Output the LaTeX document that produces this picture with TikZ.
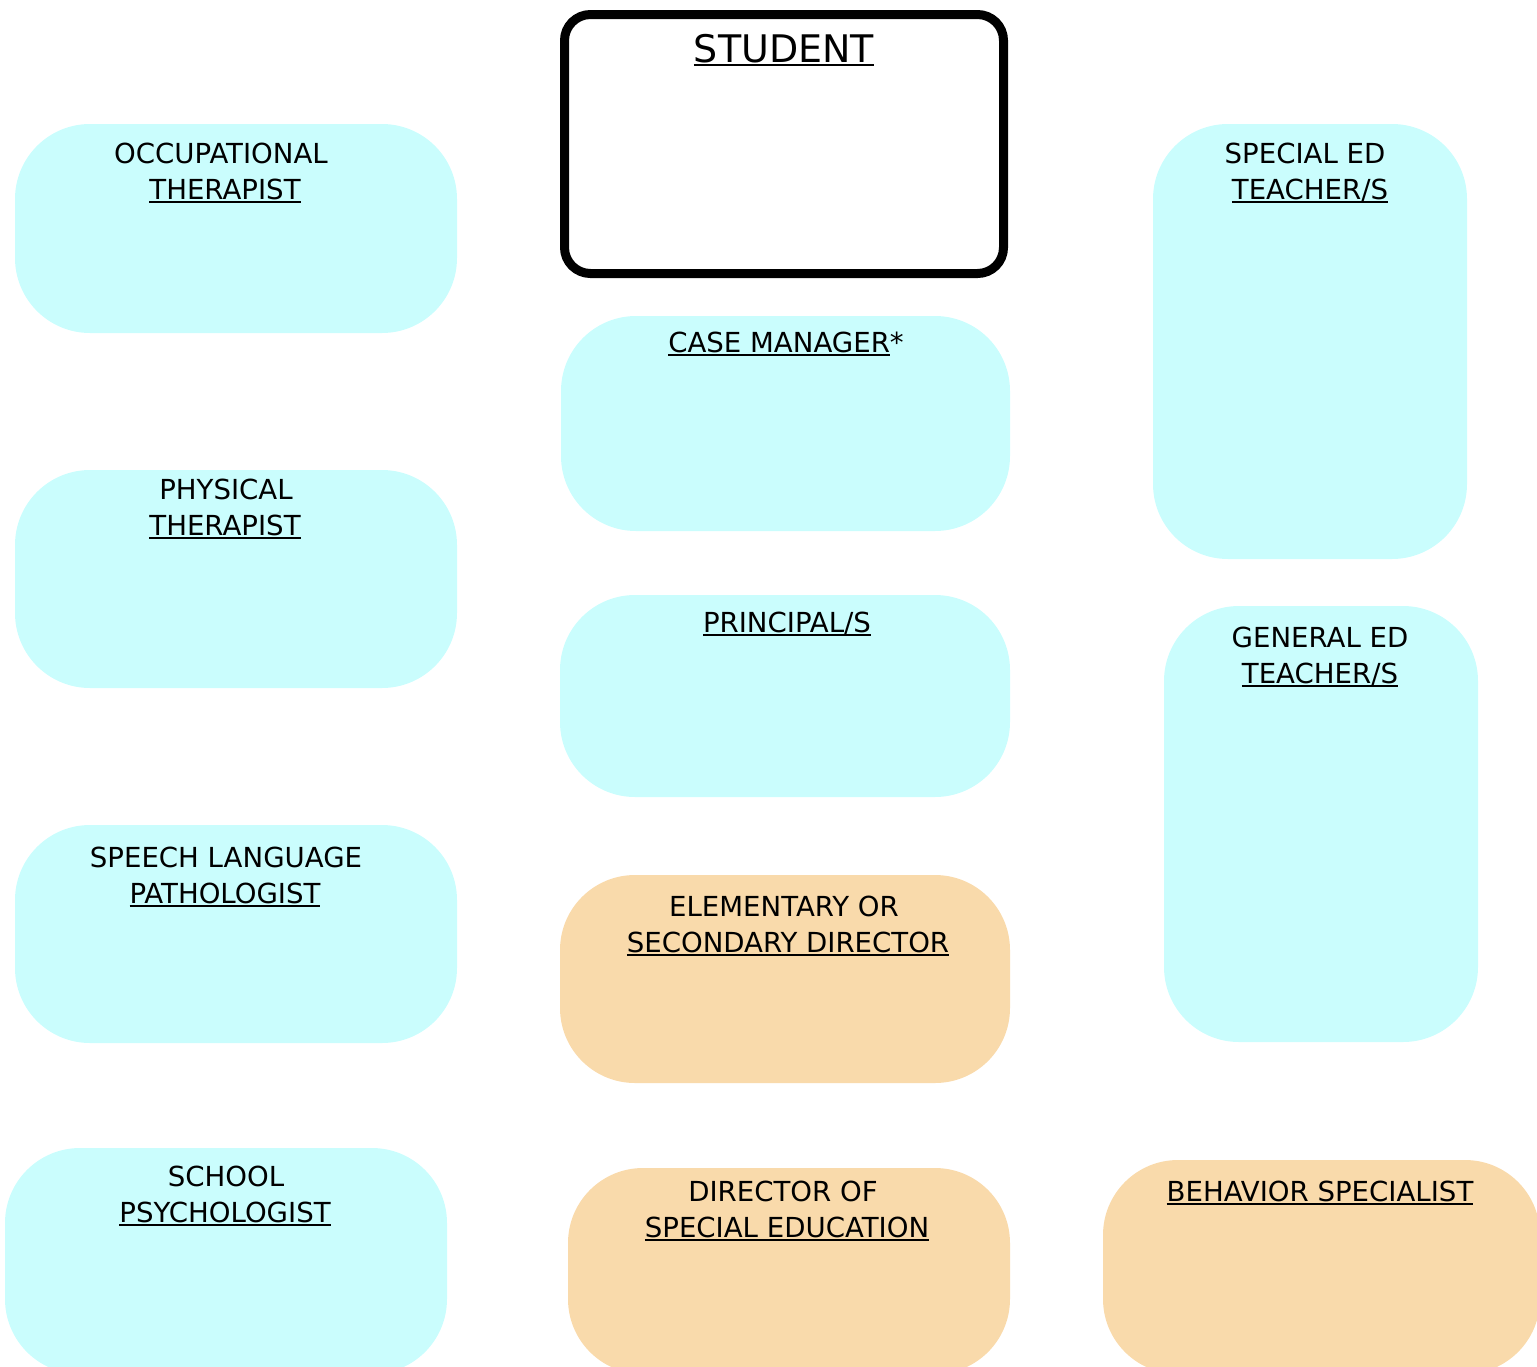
\documentclass[tikz,border=0pt]{standalone}
\usepackage{fontspec}
\setmainfont{DejaVu Sans}
\definecolor{cyanbox}{HTML}{CAFDFD}
\definecolor{orangebox}{HTML}{F9DAAB}
\newcommand\ulx[1]{\setbox0\hbox{#1}\rlap{\rule[-3.6pt]{\wd0}{1.9pt}}\box0}
\tikzset{
  cbox/.style={rectangle, rounded corners=75pt, fill=cyanbox, draw=none, anchor=north west, inner sep=0pt, outer sep=0pt},
  obox/.style={cbox, fill=orangebox},
  sbox/.style={rectangle, rounded corners=26pt, draw=black, line width=9pt, fill=white, anchor=north west, inner sep=0pt},
  lbl/.style={anchor=base, inner sep=0pt, font=\fontsize{27.6}{36}\selectfont},
  big/.style={anchor=base, inner sep=0pt, font=\fontsize{38}{44}\selectfont}
}
\begin{document}
\begin{tikzpicture}[x=1pt,y=-1pt]
\useasboundingbox (0,0) rectangle (1537,1366);
% boxes
\node[sbox, minimum width=439pt, minimum height=259pt] (student) at (560,10) {};
\node[cbox, minimum width=442pt, minimum height=209pt] (ot) at (15,124) {};
\node[cbox, minimum width=442pt, minimum height=218pt] (pt) at (15,470) {};
\node[cbox, minimum width=442pt, minimum height=218pt] (slp) at (15,825) {};
\node[cbox, minimum width=442pt, minimum height=226pt] (sp) at (5,1148) {};
\node[cbox, minimum width=449pt, minimum height=215pt] (cm) at (561,316) {};
\node[cbox, minimum width=450pt, minimum height=202pt] (pr) at (560,595) {};
\node[obox, minimum width=450pt, minimum height=208pt] (el) at (560,875) {};
\node[obox, minimum width=442pt, minimum height=206pt] (dir) at (568,1168) {};
\node[cbox, minimum width=314pt, minimum height=435pt] (se) at (1153,124) {};
\node[cbox, minimum width=314pt, minimum height=436pt] (ge) at (1164,606) {};
\node[obox, minimum width=437pt, minimum height=214pt] (bs) at (1103,1160) {};
% texts
\node[big] (tstudent) at (784,62) {\ulx{STUDENT}};
\node[lbl] (tot1) at (221,163) {OCCUPATIONAL};
\node[lbl] (tot2) at (225,199) {\ulx{THERAPIST}};
\node[lbl] (tpt1) at (226,499) {PHYSICAL};
\node[lbl] (tpt2) at (225,535) {\ulx{THERAPIST}};
\node[lbl] (tslp1) at (226,867) {SPEECH LANGUAGE};
\node[lbl] (tslp2) at (225,903) {\ulx{PATHOLOGIST}};
\node[lbl] (tsp1) at (226,1186) {SCHOOL};
\node[lbl] (tsp2) at (225,1222) {\ulx{PSYCHOLOGIST}};
\node[lbl] (tcm) at (786,352) {\ulx{CASE MANAGER}*};
\node[lbl] (tpr) at (787,632) {\ulx{PRINCIPAL/S}};
\node[lbl] (tel1) at (784,916) {ELEMENTARY OR};
\node[lbl] (tel2) at (788,952) {\ulx{SECONDARY DIRECTOR}};
\node[lbl] (tdir1) at (783,1201) {DIRECTOR OF};
\node[lbl] (tdir2) at (787,1237) {\ulx{SPECIAL EDUCATION}};
\node[lbl] (tbs) at (1320,1201) {\ulx{BEHAVIOR SPECIALIST}};
\node[lbl] (tse1) at (1305,163) {SPECIAL ED};
\node[lbl] (tse2) at (1310,199) {\ulx{TEACHER/S}};
\node[lbl] (tge1) at (1320,647) {GENERAL ED};
\node[lbl] (tge2) at (1320,683) {\ulx{TEACHER/S}};
\end{tikzpicture}
\end{document}
